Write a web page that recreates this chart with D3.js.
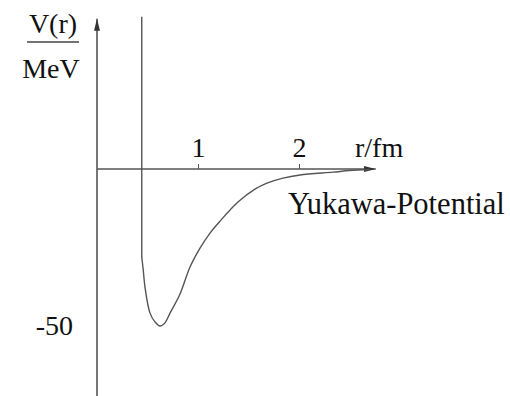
<!DOCTYPE html>
<html lang="en">
<head>
    <meta charset="UTF-8">
    <title>Yukawa-Potential</title>
    <script src="https://d3js.org/d3.v7.min.js"></script>
    <style>
        body {
            margin: 0;
            background: #fff;
            font-family: "Liberation Serif", "Times New Roman", serif;
        }
        .label {
            font-size: 28px;
            fill: #111;
        }
        .tick text {
            font-family: "Liberation Serif", serif;
            font-size: 28px;
            fill: #111;
        }
        .tick line {
            stroke: #555;
        }
        .curve {
            fill: none;
            stroke: #555;
            stroke-width: 1.4px;
        }
    </style>
</head>
<body>
    <div id="chart"></div>

    <script>
        // Values (r in fm, V in MeV)
        const rValues = [0.443, 0.443, 0.458, 0.475, 0.525, 0.574, 0.624, 0.673, 0.723, 0.822, 0.921,
                         1.02, 1.119, 1.218, 1.396, 1.564, 1.683, 1.842, 2.01, 2.337, 2.5, 2.7];
        const vValues = [48.5, -28, -32.2, -37.6, -45.9, -48.7, -50, -49.0, -45.9, -39.8, -31.2,
                         -25.2, -20.4, -16.6, -10.5, -6.4, -4.5, -2.9, -1.9, -1.0, -0.5, -0.15];
        const xTicks = [1, 2];
        const yTicks = [-50];

        const width = 510, height = 396;

        const svg = d3.select("#chart")
                      .append("svg")
                      .attr("width", width)
                      .attr("height", height);

        // Scales: origin of the axes sits at (97, 169)
        const x = d3.scaleLinear().domain([0, 1]).range([97, 198]);
        const y = d3.scaleLinear().domain([-50, 0]).range([326, 169]);

        // Arrow head marker
        svg.append("defs").append("marker")
           .attr("id", "arrow")
           .attr("viewBox", "0 0 12 6")
           .attr("refX", 12)
           .attr("refY", 3)
           .attr("markerWidth", 12)
           .attr("markerHeight", 6)
           .attr("markerUnits", "userSpaceOnUse")
           .attr("orient", "auto")
           .append("path")
           .attr("d", "M0,0 L12,3 L0,6 Z")
           .attr("fill", "#333");

        // X axis line with arrow
        svg.append("line")
           .attr("x1", x(0)).attr("x2", x(2.76))
           .attr("y1", y(0)).attr("y2", y(0))
           .attr("stroke", "#555")
           .attr("stroke-width", 1.4)
           .attr("marker-end", "url(#arrow)");

        // Y axis line with arrow
        svg.append("line")
           .attr("x1", x(0)).attr("x2", x(0))
           .attr("y1", height).attr("y2", y(48.5) + 2)
           .attr("stroke", "#555")
           .attr("stroke-width", 1.6)
           .attr("marker-end", "url(#arrow)");

        // X ticks (small ticks pointing up, numbers above)
        svg.append("g")
           .attr("transform", `translate(0,${y(0)})`)
           .call(d3.axisTop(x).tickValues(xTicks).tickFormat(d => String(d)).tickSize(5).tickPadding(7))
           .call(g => g.select(".domain").remove());

        // Y tick label without a tick mark
        svg.append("g")
           .attr("transform", `translate(${x(0)},0)`)
           .call(d3.axisLeft(y).tickValues(yTicks).tickFormat(d => String(d)).tickSize(0).tickPadding(24))
           .call(g => g.select(".domain").remove());

        // The potential curve: straight wall first, then the smooth well
        const data = rValues.map((r, i) => ({r: r, v: vValues[i]}));
        const wall = d3.line()
                       .x(d => x(d.r))
                       .y(d => y(d.v));
        const well = d3.line()
                       .x(d => x(d.r))
                       .y(d => y(d.v))
                       .curve(d3.curveCatmullRom.alpha(0.5));

        svg.append("path")
           .datum(data.slice(0, 2))
           .attr("class", "curve")
           .attr("d", wall);

        svg.append("path")
           .datum(data.slice(1))
           .attr("class", "curve")
           .attr("d", well);

        // Axis titles
        svg.append("text").attr("class", "label")
           .attr("x", 53).attr("y", 33)
           .attr("text-anchor", "middle")
           .text("V(r)");
        svg.append("line")
           .attr("x1", 27).attr("x2", 79)
           .attr("y1", 42).attr("y2", 42)
           .attr("stroke", "#444")
           .attr("stroke-width", 1.4);
        svg.append("text").attr("class", "label")
           .attr("x", 51).attr("y", 78)
           .attr("text-anchor", "middle")
           .text("MeV");

        svg.append("text").attr("class", "label")
           .attr("x", 355).attr("y", 157)
           .text("r/fm");

        svg.append("text").attr("class", "label")
           .attr("x", 288).attr("y", 214)
           .style("font-size", "30.5px")
           .text("Yukawa-Potential");
    </script>
</body>
</html>
